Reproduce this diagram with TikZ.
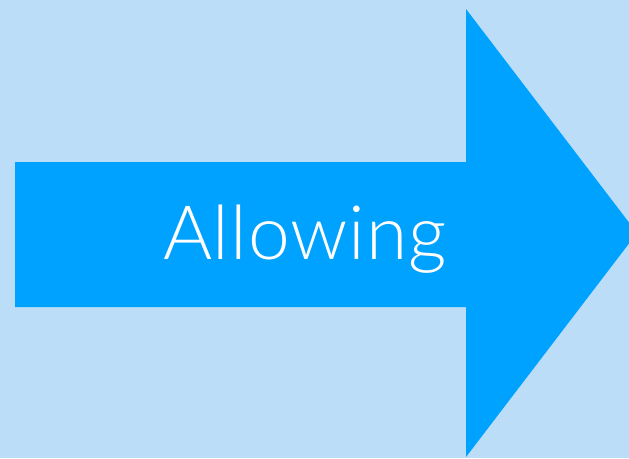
\documentclass[tikz,border=0pt]{standalone}
\usepackage{fontspec}
\setmainfont{Lato Light}[LetterSpace=1.3]
\definecolor{bgblue}{HTML}{BBDDF8}
\definecolor{arrowblue}{HTML}{00A2FF}
\tikzset{bigarrow/.style={fill=arrowblue, draw=none},
  label text/.style={text=white, font=\fontsize{75}{80}\selectfont, inner sep=0pt}}
\begin{document}
\begin{tikzpicture}[x=1pt,y=-1pt]
\fill[bgblue] (0,0) rectangle (629,458);
\useasboundingbox (0,0) rectangle (629,458);
\begin{scope}
\clip (0,0) rectangle (629,458);
\fill[bigarrow] (15,162) -- (466,162) -- (466,9) -- (637,233) -- (466,457) -- (466,307) -- (15,307) -- cycle;
\end{scope}
\node[label text, anchor=base] (lbl) at (305,259) {Allowing};
\end{tikzpicture}
\end{document}
